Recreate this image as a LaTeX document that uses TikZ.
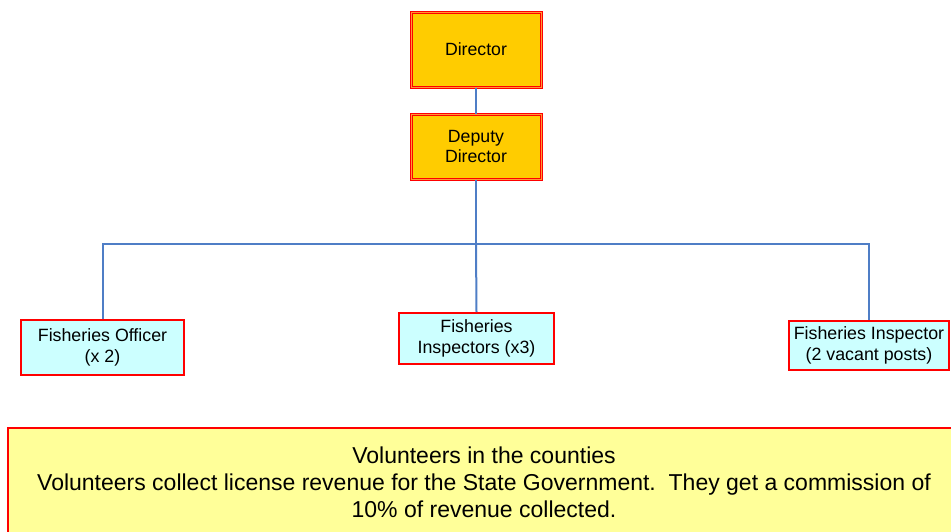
\documentclass[tikz,border=0pt]{standalone}
\usepackage{fontspec}
\setmainfont{Liberation Sans}
\definecolor{boxred}{HTML}{FF0000}
\definecolor{chiefgold}{HTML}{FFCC00}
\definecolor{chiefrim}{HTML}{FF9933}
\definecolor{staffcyan}{HTML}{CCFFFF}
\definecolor{notepale}{HTML}{FFFF99}
\definecolor{linkblue}{HTML}{4F7EC6}
\begin{document}
\begin{tikzpicture}[x=1pt,y=-1pt,
  chief/.style={draw=boxred, line width=1pt, double=chiefrim, double distance=1pt,
    fill=chiefgold, align=center, font=\fontsize{17.7}{20.5}\selectfont, inner sep=0pt},
  staff/.style={draw=boxred, line width=2pt, fill=staffcyan, align=center,
    font=\fontsize{17.8}{20.5}\selectfont, inner sep=0pt},
  note/.style={draw=boxred, line width=2pt, fill=notepale, align=center,
    font=\fontsize{23}{27}\selectfont, inner sep=0pt},
  link/.style={draw=linkblue, line width=2pt}]
\useasboundingbox (0,0) rectangle (951,531);
\clip (0,0) rectangle (951,531);

% management
\node[chief, minimum width=130pt, minimum height=75pt] (dir) at (476,49.5) {Director};
\node[chief, minimum width=130pt, minimum height=65pt] (dep) at (476,146.5) {Deputy\\Director};

% field staff
\node[staff, minimum width=163pt, minimum height=55pt] (off) at (102.5,347.5) {Fisheries Officer\\(x 2)};
\node[staff, minimum width=155pt, minimum height=51pt] (ins) at (476.5,338.5) {Fisheries\\Inspectors (x3)};
\node[staff, minimum width=160pt, minimum height=49pt] (vac) at (869,345.5) {Fisheries Inspector\\(2 vacant posts)};

% volunteers
\node[note, minimum width=952pt, minimum height=108pt] (vol) at (484,482)
  {Volunteers in the counties\\Volunteers collect license revenue for the State Government.\ \ They get a commission of\\10\% of revenue collected.};

% reporting lines
\draw[link] (dir.south) -- (dep.north);
\draw[link] (dep.south) -- (476,244) coordinate (bus);
\draw[link] (off.north) |- (bus) -| (vac.north);
\draw[link] (bus) -- (ins.north);
\end{tikzpicture}
\end{document}
